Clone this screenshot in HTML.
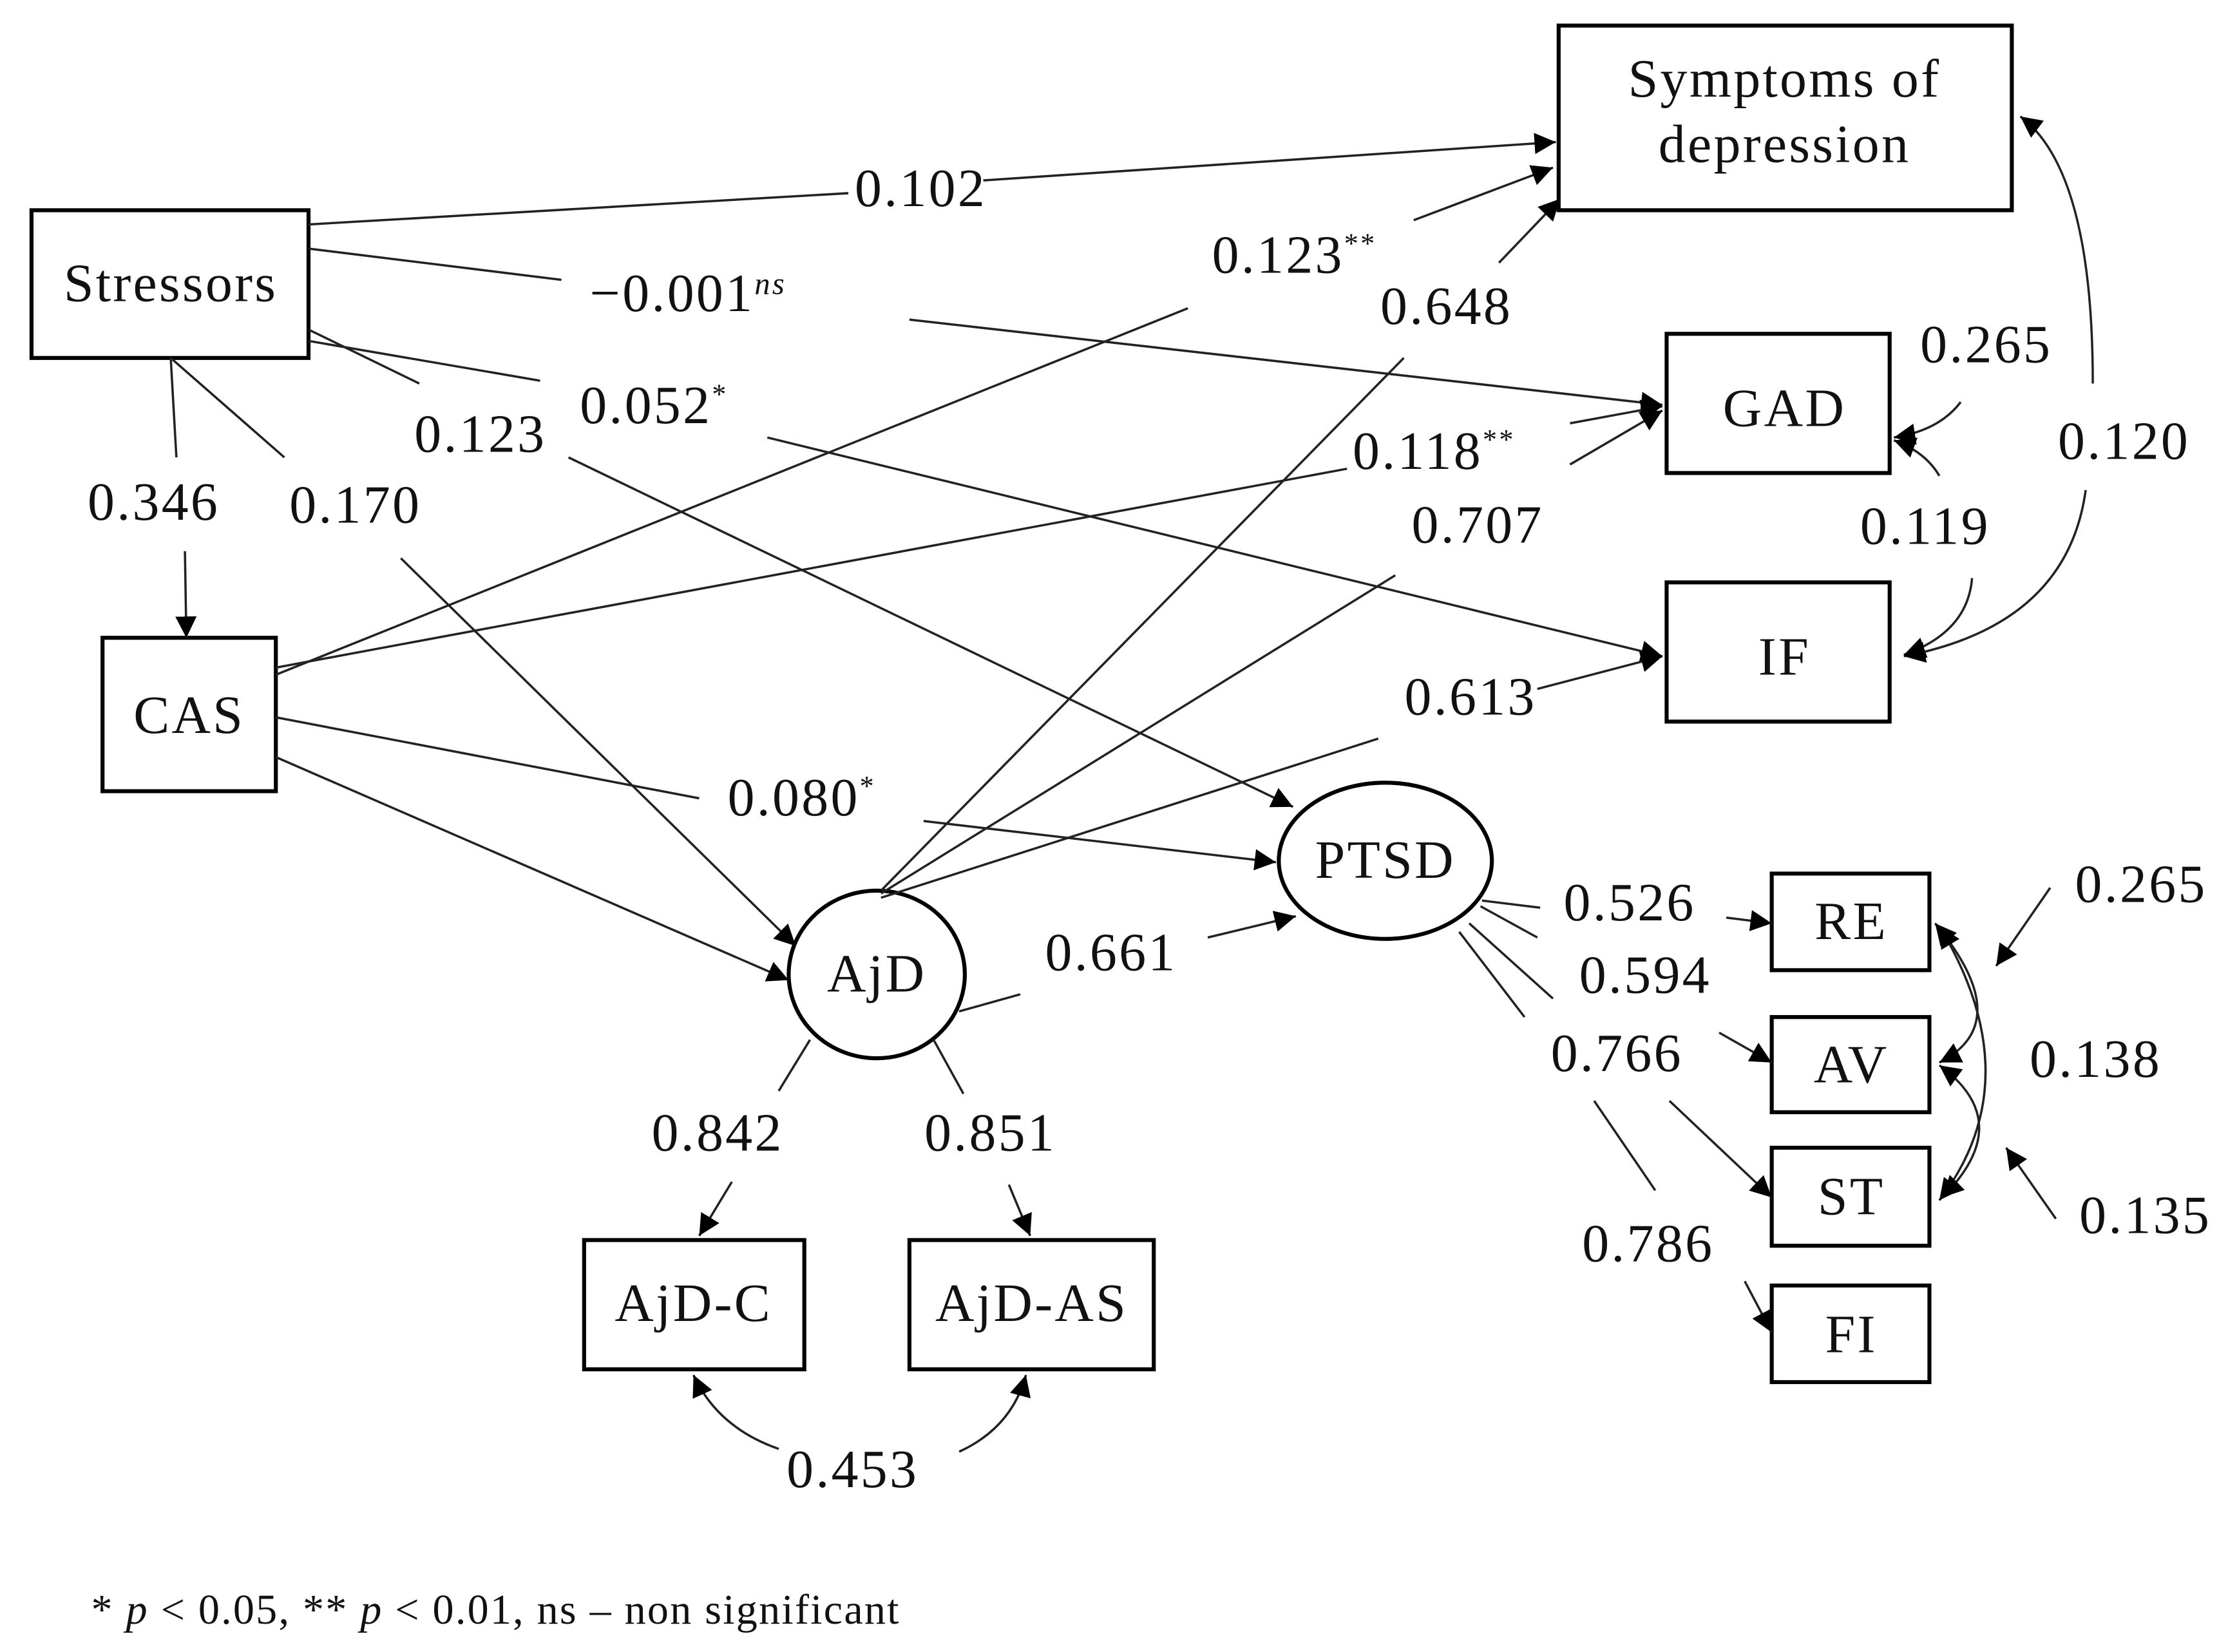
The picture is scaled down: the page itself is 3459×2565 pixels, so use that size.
<!DOCTYPE html>
<html><head><meta charset="utf-8"><style>
html,body{margin:0;padding:0;background:#fff}
svg{display:block}
text{font-family:"Liberation Serif",serif;fill:#111}
</style></head><body>
<svg width="3459" height="2565" viewBox="0 0 1568 1163" xmlns="http://www.w3.org/2000/svg">
<defs>
<marker id="a" viewBox="0 0 10 10" refX="10" refY="5" markerWidth="15" markerHeight="15" markerUnits="userSpaceOnUse" orient="auto-start-reverse">
<path d="M0,0 L10,5 L0,10 z" fill="#000"/></marker>
</defs>
<g fill="none" stroke="#000" stroke-width="2.8">
<rect x="1097" y="18" width="319" height="130"/>
<rect x="22" y="148" width="195" height="104"/>
<rect x="1173" y="235" width="157" height="98"/>
<rect x="1173" y="410" width="157" height="98"/>
<rect x="72" y="449" width="122" height="108"/>
<ellipse cx="975" cy="606" rx="75" ry="55"/>
<ellipse cx="617" cy="686" rx="62" ry="59"/>
<rect x="411" y="873" width="155" height="91"/>
<rect x="640" y="873" width="172" height="91"/>
<rect x="1247" y="615" width="111" height="68"/>
<rect x="1247" y="716" width="111" height="67"/>
<rect x="1247" y="808" width="111" height="69"/>
<rect x="1247" y="905" width="111" height="68"/>
</g>
<g fill="none" stroke="#222" stroke-width="1.6">
<line x1="217" y1="158" x2="597" y2="136"/>
<line x1="692" y1="127" x2="1095" y2="100" marker-end="url(#a)"/>
<line x1="217" y1="175" x2="395" y2="197"/>
<line x1="640" y1="225" x2="1170" y2="285" marker-end="url(#a)"/>
<line x1="217" y1="232" x2="295" y2="270"/>
<line x1="400" y1="322" x2="910" y2="568" marker-end="url(#a)"/>
<line x1="217" y1="240" x2="380" y2="268"/>
<line x1="540" y1="308" x2="1170" y2="462" marker-end="url(#a)"/>
<line x1="120" y1="252" x2="124" y2="322"/>
<line x1="130" y1="388" x2="131" y2="449" marker-end="url(#a)"/>
<line x1="120" y1="252" x2="200" y2="322"/>
<line x1="282" y1="393" x2="560" y2="666" marker-end="url(#a)"/>
<line x1="194" y1="475" x2="836" y2="217"/>
<line x1="995" y1="155" x2="1093" y2="118" marker-end="url(#a)"/>
<line x1="194" y1="470" x2="948" y2="330"/>
<line x1="1105" y1="298" x2="1170" y2="286" marker-end="url(#a)"/>
<line x1="194" y1="505" x2="492" y2="562"/>
<line x1="650" y1="578" x2="898" y2="607" marker-end="url(#a)"/>
<line x1="194" y1="533" x2="555" y2="690" marker-end="url(#a)"/>
<line x1="620" y1="627" x2="988" y2="252"/>
<line x1="1055" y1="185" x2="1098" y2="140" marker-end="url(#a)"/>
<line x1="620" y1="629" x2="982" y2="405"/>
<line x1="1105" y1="327" x2="1170" y2="289" marker-end="url(#a)"/>
<line x1="620" y1="632" x2="970" y2="520"/>
<line x1="1082" y1="485" x2="1170" y2="462" marker-end="url(#a)"/>
<line x1="675" y1="712" x2="718" y2="700"/>
<line x1="850" y1="660" x2="912" y2="645" marker-end="url(#a)"/>
<line x1="570" y1="732" x2="548" y2="768"/>
<line x1="515" y1="832" x2="492" y2="870" marker-end="url(#a)"/>
<line x1="657" y1="732" x2="678" y2="770"/>
<line x1="710" y1="834" x2="725" y2="870" marker-end="url(#a)"/>
<path d="M548,1020 Q505,1005 488,968" marker-end="url(#a)"/>
<path d="M675,1022 Q712,1005 722,968" marker-end="url(#a)"/>
<line x1="1043" y1="634" x2="1084" y2="639"/>
<line x1="1215" y1="646" x2="1247" y2="650" marker-end="url(#a)"/>
<line x1="1042" y1="638" x2="1082" y2="660"/>
<line x1="1210" y1="727" x2="1247" y2="748" marker-end="url(#a)"/>
<line x1="1034" y1="650" x2="1093" y2="703"/>
<line x1="1175" y1="775" x2="1247" y2="843" marker-end="url(#a)"/>
<line x1="1027" y1="656" x2="1073" y2="716"/>
<line x1="1122" y1="775" x2="1165" y2="838"/>
<line x1="1228" y1="902" x2="1247" y2="938" marker-end="url(#a)"/>
<path d="M1380,283 Q1365,303 1333,308" marker-end="url(#a)"/>
<path d="M1365,335 Q1355,318 1333,310" marker-end="url(#a)"/>
<path d="M1388,407 Q1385,445 1340,461" marker-end="url(#a)"/>
<path d="M1473,270 Q1473,120 1422,82" marker-end="url(#a)"/>
<path d="M1468,345 Q1455,440 1340,462" marker-end="url(#a)"/>
<line x1="1443" y1="625" x2="1405" y2="680" marker-end="url(#a)"/>
<line x1="1447" y1="858" x2="1412" y2="808" marker-end="url(#a)"/>
<path d="M1365,748 Q1420,720 1362,650" marker-start="url(#a)" marker-end="url(#a)"/>
<path d="M1365,845 Q1430,760 1365,652" marker-start="url(#a)" marker-end="url(#a)"/>
<path d="M1365,750 Q1420,790 1367,843" marker-start="url(#a)" marker-end="url(#a)"/>
</g>
<g font-size="38" letter-spacing="1.5">
<text x="1256" y="68" text-anchor="middle">Symptoms of</text>
<text x="1256" y="114" text-anchor="middle">depression</text>
<text x="120" y="212" text-anchor="middle">Stressors</text>
<text x="1256" y="300" text-anchor="middle">GAD</text>
<text x="1256" y="475" text-anchor="middle">IF</text>
<text x="133" y="516" text-anchor="middle">CAS</text>
<text x="975" y="618" text-anchor="middle">PTSD</text>
<text x="617" y="698" text-anchor="middle">AjD</text>
<text x="488" y="930" text-anchor="middle">AjD-C</text>
<text x="726" y="930" text-anchor="middle">AjD-AS</text>
<text x="1303" y="661" text-anchor="middle">RE</text>
<text x="1303" y="762" text-anchor="middle">AV</text>
<text x="1303" y="855" text-anchor="middle">ST</text>
<text x="1303" y="952" text-anchor="middle">FI</text>

<text x="648" y="145" text-anchor="middle">0.102</text>
<text x="853" y="192">0.123<tspan font-size="20" dy="-14">**</tspan></text>
<text x="415" y="219">−0.001<tspan font-size="22" dy="-12" font-style="italic">ns</tspan></text>
<text x="1018" y="228" text-anchor="middle">0.648</text>
<text x="1398" y="255" text-anchor="middle">0.265</text>
<text x="338" y="318" text-anchor="middle">0.123</text>
<text x="408" y="298">0.052<tspan font-size="20" dy="-14">*</tspan></text>
<text x="952" y="330">0.118<tspan font-size="20" dy="-14">**</tspan></text>
<text x="1495" y="323" text-anchor="middle">0.120</text>
<text x="108" y="366" text-anchor="middle">0.346</text>
<text x="250" y="368" text-anchor="middle">0.170</text>
<text x="1040" y="382" text-anchor="middle">0.707</text>
<text x="1355" y="383" text-anchor="middle">0.119</text>
<text x="1035" y="503" text-anchor="middle">0.613</text>
<text x="512" y="574">0.080<tspan font-size="20" dy="-14">*</tspan></text>
<text x="1147" y="648" text-anchor="middle">0.526</text>
<text x="1507" y="635" text-anchor="middle">0.265</text>
<text x="782" y="683" text-anchor="middle">0.661</text>
<text x="1158" y="699" text-anchor="middle">0.594</text>
<text x="1138" y="754" text-anchor="middle">0.766</text>
<text x="1475" y="758" text-anchor="middle">0.138</text>
<text x="505" y="810" text-anchor="middle">0.842</text>
<text x="697" y="810" text-anchor="middle">0.851</text>
<text x="1510" y="868" text-anchor="middle">0.135</text>
<text x="1160" y="888" text-anchor="middle">0.786</text>
<text x="600" y="1047" text-anchor="middle">0.453</text>
</g>
<text x="64" y="1143" font-size="30" letter-spacing="1">* <tspan font-style="italic">p</tspan> &lt; 0.05, ** <tspan font-style="italic">p</tspan> &lt; 0.01, ns – non significant</text>
</svg>
</body></html>
